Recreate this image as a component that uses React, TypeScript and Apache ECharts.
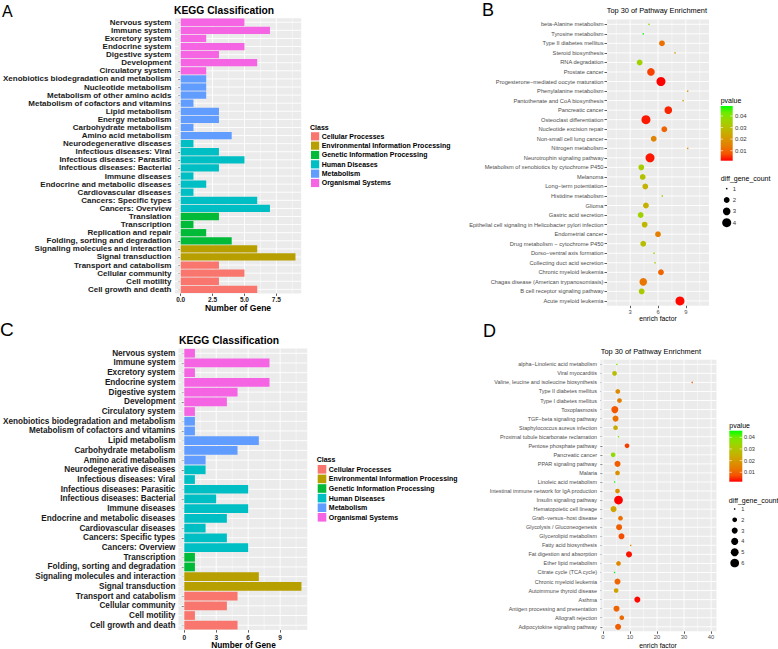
import { useEffect, useRef } from 'react';
import * as echarts from 'echarts';

const FONT = '"Liberation Sans", Arial, Helvetica, sans-serif';

// ---------- shared class legend ----------
const classNames = ['Cellular Processes', 'Environmental Information Processing', 'Genetic Information Processing', 'Human Diseases', 'Metabolism', 'Organismal Systems'];
const classColors = ['#F8766D', '#B79F00', '#00BA38', '#00BFC4', '#619CFF', '#F564E3'];

// ---------- Panel A ----------
const aCategories = ['Nervous system', 'Immune system', 'Excretory system', 'Endocrine system', 'Digestive system', 'Development', 'Circulatory system', 'Xenobiotics biodegradation and metabolism', 'Nucleotide metabolism', 'Metabolism of other amino acids', 'Metabolism of cofactors and vitamins', 'Lipid metabolism', 'Energy metabolism', 'Carbohydrate metabolism', 'Amino acid metabolism', 'Neurodegenerative diseases', 'Infectious diseases: Viral', 'Infectious diseases: Parasitic', 'Infectious diseases: Bacterial', 'Immune diseases', 'Endocrine and metabolic diseases', 'Cardiovascular diseases', 'Cancers: Specific types', 'Cancers: Overview', 'Translation', 'Transcription', 'Replication and repair', 'Folding, sorting and degradation', 'Signaling molecules and interaction', 'Signal transduction', 'Transport and catabolism', 'Cellular community', 'Cell motility', 'Cell growth and death'];
const aGenes = [5, 7, 2, 5, 3, 6, 2, 2, 2, 2, 1, 3, 3, 1, 4, 1, 3, 5, 3, 1, 2, 1, 6, 7, 3, 1, 2, 4, 6, 9, 3, 5, 3, 6];
const aClassIdx = [5, 5, 5, 5, 5, 5, 5, 4, 4, 4, 4, 4, 4, 4, 4, 3, 3, 3, 3, 3, 3, 3, 3, 3, 2, 2, 2, 2, 1, 1, 0, 0, 0, 0];
const aTicks = [0, 2.5, 5, 7.5];
const aMinor = [1.25, 3.75, 6.25, 8.75];

// ---------- Panel C ----------
const cCategories = ['Nervous system', 'Immune system', 'Excretory system', 'Endocrine system', 'Digestive system', 'Development', 'Circulatory system', 'Xenobiotics biodegradation and metabolism', 'Metabolism of cofactors and vitamins', 'Lipid metabolism', 'Carbohydrate metabolism', 'Amino acid metabolism', 'Neurodegenerative diseases', 'Infectious diseases: Viral', 'Infectious diseases: Parasitic', 'Infectious diseases: Bacterial', 'Immune diseases', 'Endocrine and metabolic diseases', 'Cardiovascular diseases', 'Cancers: Specific types', 'Cancers: Overview', 'Transcription', 'Folding, sorting and degradation', 'Signaling molecules and interaction', 'Signal transduction', 'Transport and catabolism', 'Cellular community', 'Cell motility', 'Cell growth and death'];
const cGenes = [1, 8, 1, 8, 5, 4, 1, 1, 1, 7, 5, 2, 2, 1, 6, 3, 6, 4, 2, 4, 6, 1, 1, 7, 11, 5, 4, 1, 5];
const cClassIdx = [5, 5, 5, 5, 5, 5, 5, 4, 4, 4, 4, 4, 3, 3, 3, 3, 3, 3, 3, 3, 3, 2, 2, 1, 1, 0, 0, 0, 0];
const cTicks = [0, 3, 6, 9];
const cMinor = [1.5, 4.5, 7.5, 10.5];

// ---------- Panel B ----------
const bPathways = ['beta-Alanine metabolism', 'Tyrosine metabolism', 'Type II diabetes mellitus', 'Steroid biosynthesis', 'RNA degradation', 'Prostate cancer', 'Progesterone\u2212mediated oocyte maturation', 'Phenylalanine metabolism', 'Pantothenate and CoA biosynthesis', 'Pancreatic cancer', 'Osteoclast differentiation', 'Nucleotide excision repair', 'Non-small cell lung cancer', 'Nitrogen metabolism', 'Neurotrophin signaling pathway', 'Metabolism of xenobiotics by cytochrome P450', 'Melanoma', 'Long\u2212term potentiation', 'Histidine metabolism', 'Glioma', 'Gastric acid secretion', 'Epithelial cell signaling in Helicobacter pylori infection', 'Endometrial cancer', 'Drug metabolism \u2212 cytochrome P450', 'Dorso\u2212ventral axis formation', 'Collecting duct acid secretion', 'Chronic myeloid leukemia', 'Chagas disease (American trypanosomiasis)', 'B cell receptor signaling pathway', 'Acute myeloid leukemia'];
const bEnrich = [5.03, 4.41, 6.43, 7.83, 4.02, 5.24, 6.32, 9.2, 8.7, 7.11, 4.7, 6.68, 5.54, 9.2, 5.14, 4.2, 4.35, 4.63, 6.46, 4.7, 4.13, 4.56, 6.0, 4.41, 5.57, 5.68, 6.32, 4.41, 4.24, 8.37];
const bPvalue = [0.04, 0.0486, 0.012, 0.022, 0.035, 0.006, 0.0014, 0.019, 0.021, 0.004, 0.003, 0.01, 0.016, 0.019, 0.003, 0.034, 0.031, 0.027, 0.033, 0.026, 0.035, 0.028, 0.015, 0.03, 0.036, 0.035, 0.01, 0.013, 0.033, 0.002];
const bCount = [1, 1, 2, 1, 2, 3, 4, 1, 1, 3, 4, 2, 2, 1, 4, 2, 2, 2, 1, 2, 2, 2, 2, 2, 1, 1, 2, 3, 2, 4];
const bTicks = [3, 6, 9];
const bMinor = [1.5, 4.5, 7.5, 10.5];

// ---------- Panel D ----------
const dPathways = ['alpha\u2212Linolenic acid metabolism', 'Viral myocarditis', 'Valine, leucine and isoleucine biosynthesis', 'Type II diabetes mellitus', 'Type I diabetes mellitus', 'Toxoplasmosis', 'TGF\u2212beta signaling pathway', 'Staphylococcus aureus infection', 'Proximal tubule bicarbonate reclamation', 'Pentose phosphate pathway', 'Pancreatic cancer', 'PPAR signaling pathway', 'Malaria', 'Linoleic acid metabolism', 'Intestinal immune network for IgA production', 'Insulin signaling pathway', 'Hematopoietic cell lineage', 'Graft\u2212versus\u2212host disease', 'Glycolysis / Gluconeogenesis', 'Glycerolipid metabolism', 'Fatty acid biosynthesis', 'Fat digestion and absorption', 'Ether lipid metabolism', 'Citrate cycle (TCA cycle)', 'Chronic myeloid leukemia', 'Autoimmune thyroid disease', 'Asthma', 'Antigen processing and presentation', 'Allograft rejection', 'Adipocytokine signaling pathway'];
const dEnrich = [5.13, 4.29, 33.0, 5.5, 6.12, 4.4, 4.66, 4.66, 5.76, 8.91, 3.78, 5.39, 5.39, 4.29, 5.39, 5.76, 3.92, 6.49, 5.98, 6.86, 10.27, 9.64, 5.76, 4.29, 5.39, 4.88, 12.72, 5.02, 6.97, 5.61];
const dPvalue = [0.04, 0.028, 0.009, 0.017, 0.014, 0.008, 0.012, 0.024, 0.04, 0.006, 0.036, 0.009, 0.018, 0.0457, 0.018, 0.0019, 0.022, 0.012, 0.009, 0.007, 0.016, 0.003, 0.016, 0.0457, 0.01, 0.022, 0.0025, 0.01, 0.011, 0.009];
const dCount = [1, 2, 1, 2, 2, 4, 3, 2, 1, 2, 2, 3, 2, 1, 2, 6, 3, 2, 3, 3, 1, 3, 2, 1, 3, 2, 3, 3, 2, 3];
const dTicks = [0, 10, 20, 30, 40];
const dMinor = [5, 15, 25, 35];

const pvalTicks = [0.01, 0.02, 0.03, 0.04];
// red -> green gradient (Lab-like interpolation stops), low p to high p
const palette = ['#FF0000', '#F45300', '#E87700', '#DA9200', '#C9AB00', '#B3C200', '#98D700', '#70EB00', '#00FF00'];

const sizeFn = (c: number, cmin: number, cmax: number, dmax: number) =>
  (dmax / 6) * (1 + 5 * Math.sqrt((c - cmin) / (cmax - cmin)));

function gridLines(xIdx: number, n: number, majors: number[], minors: number[]) {
  return {
    type: 'custom',
    xAxisIndex: xIdx,
    yAxisIndex: xIdx,
    z: 1,
    silent: true,
    clip: false,
    data: [[majors[0], 0]],
    renderItem: (params: any, api: any) => {
      const cs = params.coordSys;
      const children: any[] = [];
      minors.forEach((v) => {
        const p = api.coord([v, 0]);
        children.push({ type: 'line', shape: { x1: p[0], y1: cs.y, x2: p[0], y2: cs.y + cs.height }, style: { stroke: '#FFFFFF', lineWidth: 0.45 } });
      });
      majors.forEach((v) => {
        const p = api.coord([v, 0]);
        children.push({ type: 'line', shape: { x1: p[0], y1: cs.y, x2: p[0], y2: cs.y + cs.height }, style: { stroke: '#FFFFFF', lineWidth: 0.9 } });
      });
      for (let i = 0; i < n; i++) {
        const p = api.coord([majors[0], i]);
        children.push({ type: 'line', shape: { x1: cs.x, y1: p[1], x2: cs.x + cs.width, y2: p[1] }, style: { stroke: '#FFFFFF', lineWidth: 0.9 } });
      }
      return { type: 'group', children };
    },
  };
}

function txt(x: number, y: number, text: string, size: number, opt: any = {}) {
  return {
    type: 'text',
    x,
    y,
    silent: true,
    style: {
      text,
      fontFamily: FONT,
      fontSize: size,
      fontWeight: opt.weight || 'normal',
      fill: opt.fill || '#000000',
      align: opt.align || 'left',
      verticalAlign: 'middle',
    },
  };
}

function classLegend(x: number, y: number, gap: number, size: number) {
  const els: any[] = [txt(x - 1, y, 'Class', 7, { weight: 'bold' })];
  classNames.forEach((name, i) => {
    const cy = y + gap * (i + 1);
    els.push({ type: 'rect', silent: true, shape: { x, y: cy - size / 2, width: size, height: size }, style: { fill: classColors[i] } });
    els.push(txt(x + size + 2.5, cy, name, 7, { weight: 'bold' }));
  });
  return els;
}

function pvalLegend(x: number, top: number, w: number, h: number, pmin: number, pmax: number, labelX: number, labelSize: number) {
  const stops = palette.map((c, i) => ({ offset: 1 - i / (palette.length - 1), color: c }));
  const els: any[] = [
    txt(x, top - 5.5, 'pvalue', 7),
    { type: 'rect', silent: true, shape: { x, y: top, width: w, height: h }, style: { fill: new echarts.graphic.LinearGradient(0, 0, 0, 1, stops.reverse()) } },
  ];
  pvalTicks.forEach((v) => {
    const yy = top + ((pmax - v) / (pmax - pmin)) * h;
    els.push({ type: 'line', silent: true, shape: { x1: x, y1: yy, x2: x + w / 5, y2: yy }, style: { stroke: '#FFFFFF', lineWidth: 0.6 } });
    els.push({ type: 'line', silent: true, shape: { x1: x + w - w / 5, y1: yy, x2: x + w, y2: yy }, style: { stroke: '#FFFFFF', lineWidth: 0.6 } });
    els.push(txt(labelX, yy, v.toFixed(2), labelSize, { fill: '#333333' }));
  });
  return els;
}

function sizeLegend(x: number, titleY: number, firstY: number, gap: number, counts: number[], dmax: number, labelX: number, labelSize: number) {
  const cmin = Math.min(...counts);
  const cmax = Math.max(...counts);
  const els: any[] = [txt(x, titleY, 'diff_gene_count', 7)];
  const levels: number[] = [];
  for (let c = cmin; c <= cmax; c++) levels.push(c);
  levels.forEach((c, i) => {
    const cy = firstY + gap * i;
    const r = sizeFn(c, cmin, cmax, dmax) / 2;
    els.push({ type: 'circle', silent: true, shape: { cx: x + 6, cy, r }, style: { fill: '#000000' } });
    els.push(txt(labelX, cy, String(c), labelSize, { fill: '#333333' }));
  });
  return els;
}

function valueXAxis(grid: number, min: number, max: number, ticks: number[], fmt: (v: number) => string, fontSize: number, bold: boolean, margin: number) {
  return {
    type: 'value',
    gridIndex: grid,
    min,
    max,
    axisLine: { show: false },
    splitLine: { show: false },
    axisTick: { show: true, customValues: ticks, length: 2.5, lineStyle: { color: '#333333', width: 0.8 } },
    axisLabel: { customValues: ticks, formatter: fmt, fontSize, fontFamily: FONT, fontWeight: bold ? 'bold' : 'normal', color: bold ? '#222222' : '#4D4D4D', margin },
  };
}

function catYAxis(grid: number, data: string[], fontSize: number, bold: boolean, margin: number) {
  return {
    type: 'category',
    gridIndex: grid,
    data,
    inverse: true,
    axisLine: { show: false },
    splitLine: { show: false },
    axisTick: { show: true, alignWithLabel: true, interval: 0, length: 2.5, lineStyle: { color: '#333333', width: 0.8 } },
    axisLabel: { interval: 0, fontSize, fontFamily: FONT, fontWeight: bold ? 'bold' : 'normal', color: bold ? '#1A1A1A' : '#4D4D4D', margin },
  };
}

function buildOption() {
  const bPmin = Math.min(...bPvalue);
  const bPmax = Math.max(...bPvalue);
  const dPmin = Math.min(...dPvalue);
  const dPmax = Math.max(...dPvalue);
  const bCmin = Math.min(...bCount);
  const bCmax = Math.max(...bCount);
  const dCmin = Math.min(...dCount);
  const dCmax = Math.max(...dCount);

  const gridBase = { show: true, backgroundColor: '#EBEBEB', borderWidth: 0, containLabel: false };

  const graphic: any[] = [
    txt(2, 11.3, 'A', 16),
    txt(482, 9.5, 'B', 18),
    txt(0, 329.3, 'C', 19),
    txt(483, 330.7, 'D', 18),
    txt(174, 10.8, 'KEGG Classification', 10.3, { weight: 'bold' }),
    txt(179, 340, 'KEGG Classification', 10.3, { weight: 'bold' }),
    txt(606.7, 10.3, 'Top 30 of Pathway Enrichment', 7.4),
    txt(600.7, 351, 'Top 30 of Pathway Enrichment', 7.4),
    txt(238, 307.5, 'Number of Gene', 8.5, { weight: 'bold', align: 'center' }),
    txt(243.5, 645, 'Number of Gene', 8.3, { weight: 'bold', align: 'center' }),
    txt(658, 318.5, 'enrich factor', 6.8, { align: 'center' }),
    txt(658, 645, 'enrich factor', 6.8, { align: 'center' }),
    ...classLegend(311, 127, 9.33, 8.2),
    ...classLegend(317.7, 459.7, 9.6, 8.6),
    ...pvalLegend(720.7, 106, 12, 54.7, bPmin, bPmax, 735, 6),
    ...pvalLegend(729.3, 430.7, 13, 51, dPmin, dPmax, 744, 5.6),
    ...sizeLegend(720.7, 178.7, 188.7, 11.33, bCount, 9, 732.7, 6),
    ...sizeLegend(728.7, 500, 509, 10.8, dCount, 8.7, 741.3, 5.6),
  ];

  return {
    animation: false,
    backgroundColor: '#FFFFFF',
    grid: [
      { ...gridBase, left: 173.5, top: 18.2, width: 127.7, height: 275.2 },
      { ...gridBase, left: 607, top: 19.5, width: 102, height: 286.2 },
      { ...gridBase, left: 177.4, top: 348.4, width: 129.9, height: 281.7 },
      { ...gridBase, left: 600.5, top: 359.8, width: 116, height: 271.5 },
    ],
    xAxis: [
      valueXAxis(0, -0.45, 9.45, aTicks, (v) => v.toFixed(1), 6.5, true, 3),
      valueXAxis(1, 0.5, 11.5, bTicks, (v) => String(v), 5.8, false, 3.5),
      valueXAxis(2, -0.55, 11.55, cTicks, (v) => String(v), 6.5, true, 3.5),
      valueXAxis(3, -0.9, 42, dTicks, (v) => String(v), 5.8, false, 3),
    ],
    yAxis: [
      catYAxis(0, aCategories, 8, true, 3.5),
      catYAxis(1, bPathways, 5.7, false, 3.5),
      catYAxis(2, cCategories, 8.2, true, 3),
      catYAxis(3, dPathways, 5.45, false, 3.5),
    ],
    visualMap: [
      { type: 'continuous', show: false, seriesIndex: 3, dimension: 2, min: bPmin, max: bPmax, inRange: { color: palette } },
      { type: 'continuous', show: false, seriesIndex: 7, dimension: 2, min: dPmin, max: dPmax, inRange: { color: palette } },
    ],
    series: [
      gridLines(0, aCategories.length, aTicks, aMinor),
      {
        type: 'bar',
        xAxisIndex: 0,
        yAxisIndex: 0,
        z: 2,
        barWidth: '90%',
        data: aGenes.map((v, i) => ({ value: v, itemStyle: { color: classColors[aClassIdx[i]] } })),
      },
      gridLines(1, bPathways.length, bTicks, bMinor),
      {
        type: 'scatter',
        xAxisIndex: 1,
        yAxisIndex: 1,
        z: 2,
        data: bPathways.map((_, i) => [bEnrich[i], i, bPvalue[i], bCount[i]]),
        symbolSize: (v: number[]) => sizeFn(v[3], bCmin, bCmax, 9),
        itemStyle: { opacity: 1 },
      },
      gridLines(2, cCategories.length, cTicks, cMinor),
      {
        type: 'bar',
        xAxisIndex: 2,
        yAxisIndex: 2,
        z: 2,
        barWidth: '90%',
        data: cGenes.map((v, i) => ({ value: v, itemStyle: { color: classColors[cClassIdx[i]] } })),
      },
      gridLines(3, dPathways.length, dTicks, dMinor),
      {
        type: 'scatter',
        xAxisIndex: 3,
        yAxisIndex: 3,
        z: 2,
        data: dPathways.map((_, i) => [dEnrich[i], i, dPvalue[i], dCount[i]]),
        symbolSize: (v: number[]) => sizeFn(v[3], dCmin, dCmax, 8.7),
        itemStyle: { opacity: 1 },
      },
    ],
    graphic,
  };
}

export default function App() {
  const ref = useRef<HTMLDivElement>(null);
  useEffect(() => {
    const chart = echarts.init(ref.current as HTMLDivElement, null, { renderer: 'svg' });
    chart.setOption(buildOption() as any);
    return () => chart.dispose();
  }, []);
  return (
    <div
      ref={ref}
      style={{ position: 'fixed', left: 0, top: 0, width: 778, height: 649, background: '#FFFFFF' }}
    />
  );
}
